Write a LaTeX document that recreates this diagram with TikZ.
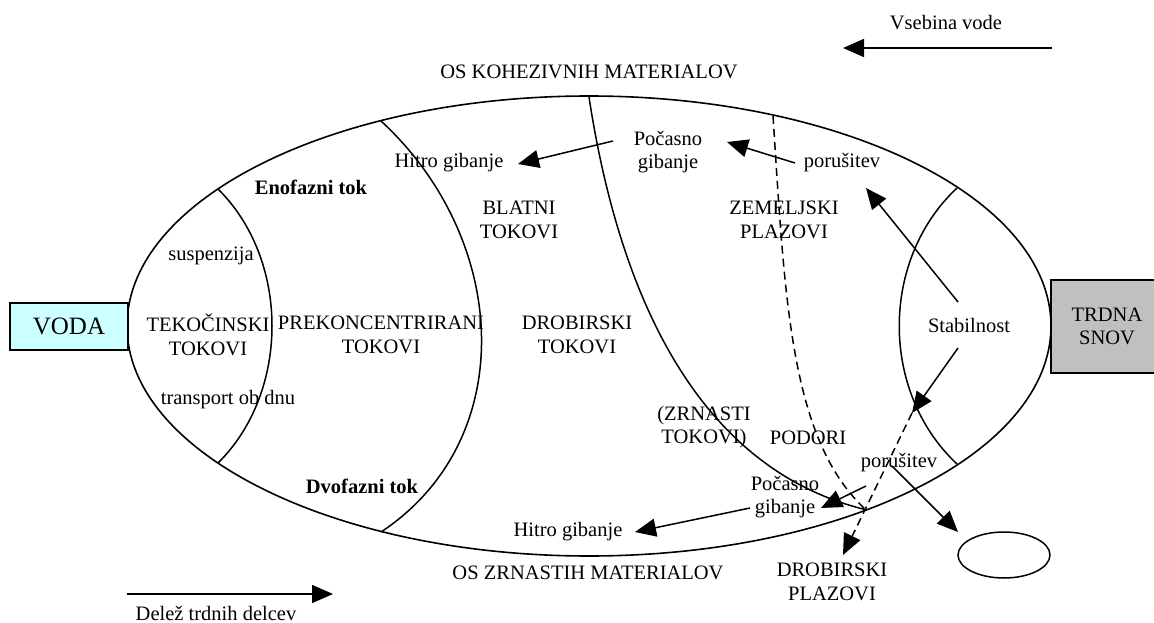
\documentclass[tikz,border=0pt]{standalone}
\usepackage{fontspec}
\setmainfont{Liberation Serif}
\usetikzlibrary{arrows.meta,shapes.geometric}
\definecolor{vodafill}{HTML}{CCFFFF}
\definecolor{trdfill}{HTML}{C0C0C0}
\begin{document}
\begin{tikzpicture}[x=1pt,y=-1pt,line width=1.5pt,
  lbl/.style={font=\fontsize{20.5}{23.5}\selectfont,align=center,inner sep=0pt},
  blbl/.style={font=\fontsize{20.5}{23.5}\selectfont\bfseries,align=center,inner sep=0pt},
  arr/.style={-{Triangle[length=21pt,width=18pt]}},
  dsh/.style={dash pattern=on 8pt off 5pt}]
\useasboundingbox (0,0) rectangle (1154,623);

% main ellipse
\draw[line width=1.6pt] (589,326) ellipse [x radius=462, y radius=230];

% dividers
\draw (218,189) .. controls (290,260) and (290,392) .. (218,463);
\draw (381,121) .. controls (510,240) and (520,440) .. (381,532);
\draw (589,97) .. controls (620,300) and (700,470) .. (867,510);
\draw (957,188) .. controls (880,260) and (880,392) .. (957,464);
\draw[dsh] (773,116) .. controls (785,300) and (790,440) .. (866,510);

% boxes
\node[draw,line width=2.2pt,fill=vodafill,minimum width=118pt,minimum height=47pt,inner sep=0pt,
      font=\fontsize{25}{28}\selectfont] (voda) at (69,326.5) {VODA};
\node[draw,line width=2.2pt,fill=trdfill,minimum width=112pt,minimum height=93pt,inner sep=0pt,
      align=center,font=\fontsize{20.5}{23.5}\selectfont] (trdna) at (1107,326.5) {TRDNA\\SNOV};

% labels
\node[lbl] (vsebina) at (946,23) {Vsebina vode};
\node[lbl] (oskoh) at (589,72) {OS KOHEZIVNIH MATERIALOV};
\node[lbl] (oszrn) at (588,573) {OS ZRNASTIH MATERIALOV};
\node[lbl] (delez) at (216,613) {Delež trdnih delcev};
\node[lbl] (hitro1) at (449,163) {Hitro gibanje};
\node[lbl] (pocasno1) at (668,152) {Počasno\\gibanje};
\node[lbl] (porus1) at (842,163) {porušitev};
\node[blbl] (enofazni) at (311,187) {Enofazni tok};
\node[lbl] (blatni) at (519,220) {BLATNI\\TOKOVI};
\node[lbl] (zemeljski) at (784,220) {ZEMELJSKI\\PLAZOVI};
\node[lbl] (susp) at (211,256) {suspenzija};
\node[lbl] (tekoc) at (208,335) {TEKOČINSKI\\TOKOVI};
\node[lbl] (prek) at (381,335) {PREKONCENTRIRANI\\TOKOVI};
\node[lbl] (drob) at (577,335) {DROBIRSKI\\TOKOVI};
\node[lbl] (stab) at (969,325) {Stabilnost};
\node[lbl] (transp) at (228,400) {transport ob dnu};
\node[lbl] (zrn) at (704,427) {(ZRNASTI\\TOKOVI)};
\node[lbl] (podori) at (808,438) {PODORI};
\node[lbl] (porus2) at (899,463) {porušitev};
\node[blbl] (dvofazni) at (362,486) {Dvofazni tok};
\node[lbl] (pocasno2) at (785,497) {Počasno\\gibanje};
\node[lbl] (hitro2) at (568,532) {Hitro gibanje};
\node[lbl] (drobpl) at (832,582) {DROBIRSKI\\PLAZOVI};
\node[draw,ellipse,minimum width=92pt,minimum height=46pt,inner sep=0pt] (oval) at (1004,555) {};

% arrow end points
\coordinate (vsA) at (1052,48);
\coordinate (vsB) at (843,48);
\coordinate (deA) at (127,594);
\coordinate (deB) at (333,594);
\coordinate (p1s) at (795,163);
\coordinate (p1e) at (727,142);
\coordinate (g1s) at (613,141);
\coordinate (g1e) at (518,164);
\coordinate (s1s) at (958,302);
\coordinate (s1e) at (866,188);
\coordinate (s2s) at (958,348);
\coordinate (s2e) at (912,413);
\coordinate (dpe) at (843,555);
\coordinate (p2s) at (866,486);
\coordinate (p2e) at (821,508);
\coordinate (p3s) at (892,466);
\coordinate (p3e) at (958,532);
\coordinate (g2s) at (750,508);
\coordinate (g2e) at (635,532);

% arrows
\draw[arr] (vsA) -- (vsB);
\draw[arr] (deA) -- (deB);
\draw[arr] (p1s) -- (p1e);
\draw[arr] (g1s) -- (g1e);
\draw[arr] (s1s) -- (s1e);
\draw[arr] (s2s) -- (s2e);
\draw[arr,dsh] (s2e) -- (dpe);
\draw[arr] (p2s) -- (p2e);
\draw[arr] (p3s) -- (p3e);
\draw[arr] (g2s) -- (g2e);
\end{tikzpicture}
\end{document}
